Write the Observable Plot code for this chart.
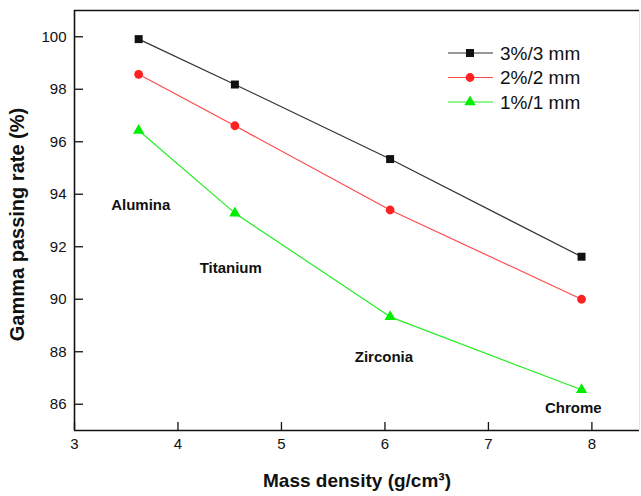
<!DOCTYPE html>
<html>
<head>
<meta charset="utf-8">
<script src="https://cdn.jsdelivr.net/npm/d3@7"></script>
<script src="https://cdn.jsdelivr.net/npm/@observablehq/plot@0.6"></script>
<style>
  html, body { margin: 0; padding: 0; background: #fff; }
  #chart svg { font-family: "Liberation Sans", Arial, sans-serif; }
</style>
</head>
<body>
<div id="chart"></div>
<script>
// ---- data ----
const materials = ["Alumina", "Titanium", "Zirconia", "Chrome"];
const density = [3.62, 4.55, 6.05, 7.90];
const seriesNames = ["3%/3 mm", "2%/2 mm", "1%/1 mm"];
const seriesColors = ["#111111", "#ff2020", "#00ee00"];
const lineColors = ["#333333", "#ff4a4a", "#22ee22"];
const seriesSymbols = ["square", "circle", "triangle"];
const seriesR = [4.5, 4.4, 4.2];
const pass3 = [99.91, 98.18, 95.34, 91.62];
const pass2 = [98.57, 96.61, 93.40, 90.00];
const pass1 = [96.43, 93.28, 89.33, 86.55];
const labelX = [3.64, 4.51, 5.99, 7.82];
const labelY = [93.59, 91.19, 87.80, 85.86];
const xTicks = [3, 4, 5, 6, 7, 8];
const yTicks = [86, 88, 90, 92, 94, 96, 98, 100];
const xTitle = "Mass density (g/cm³)";
const yTitle = "Gamma passing rate (%)";

const values = [pass3, pass2, pass1];
const rows = [];
values.forEach((vals, s) => vals.forEach((v, i) => rows.push({series: seriesNames[s], s, x: density[i], y: v})));
const labels = materials.map((m, i) => ({name: m, x: labelX[i], y: labelY[i]}));

const xDomain = [3, 8.46];
const yDomain = [85, 101];

const marks = [];
values.forEach((vals, s) => {
  const d = rows.filter(r => r.s === s);
  marks.push(Plot.line(d, {x: "x", y: "y", stroke: lineColors[s], strokeWidth: 1.2}));
});
values.forEach((vals, s) => {
  const d = rows.filter(r => r.s === s);
  marks.push(Plot.dot(d, {x: "x", y: "y", symbol: seriesSymbols[s], r: seriesR[s], fill: seriesColors[s], stroke: "none"}));
});

const chart = Plot.plot({
  width: 641,
  height: 496,
  marginLeft: 74,
  marginRight: 2,
  marginTop: 10,
  marginBottom: 66,
  style: {fontSize: "15px", fontFamily: "Liberation Sans, Arial, sans-serif", color: "#111", background: "#fff", overflow: "visible"},
  x: {domain: xDomain},
  y: {domain: yDomain},
  marks: [
    // inward tick marks
    Plot.axisX(xTicks, {tickSize: 8, dy: -8, tickFormat: () => "", label: null, strokeWidth: 1.3}),
    Plot.axisY(yTicks, {tickSize: 9, dx: 9, tickFormat: () => "", label: null, strokeWidth: 1.3}),
    // tick labels
    Plot.axisX(xTicks, {tickSize: 0, tickPadding: 8, label: null}),
    Plot.axisY(yTicks, {tickSize: 0, tickPadding: 8, label: null}),
    // axis titles
    Plot.text([xTitle], {frameAnchor: "bottom", dy: 50, textAnchor: "middle", lineAnchor: "middle", text: d => d, fontWeight: "bold", fontSize: 19, fill: "#111"}),
    Plot.text([yTitle], {frameAnchor: "left", dx: -57, dy: 4, rotate: -90, textAnchor: "middle", lineAnchor: "middle", text: d => d, fontWeight: "bold", fontSize: 20, fill: "#111"}),
    // frame
    Plot.ruleX([xDomain[1]], {stroke: "#e4e4e4", strokeWidth: 1}),
    Plot.ruleY([yDomain[0]], {stroke: "#111", strokeWidth: 1.6}),
    Plot.ruleY([yDomain[1]], {stroke: "#111", strokeWidth: 1.6}),
    Plot.ruleX([xDomain[0]], {stroke: "#111", strokeWidth: 1.6}),
    ...marks,
    Plot.text(labels, {x: "x", y: "y", text: "name", fontWeight: "bold", fontSize: 15, fill: "#111"})
  ]
});

// legend inside the plot (top-right)
const svg = d3.select(chart);
const lg = svg.append("g").attr("transform", "translate(448,53)");
seriesNames.forEach((name, i) => {
  const g = lg.append("g").attr("transform", `translate(0,${i * 24.5})`);
  g.append("line").attr("x1", 0).attr("x2", 45).attr("y1", 0).attr("y2", 0)
    .attr("stroke", lineColors[i]).attr("stroke-width", 1.2);
  const sym = seriesSymbols[i] === "square" ? d3.symbolSquare : seriesSymbols[i] === "circle" ? d3.symbolCircle : d3.symbolTriangle;
  g.append("path").attr("transform", "translate(22,0)")
    .attr("d", d3.symbol(sym, Math.PI * seriesR[i] * seriesR[i])())
    .attr("fill", seriesColors[i]);
  g.append("text").attr("x", 52).attr("y", 0).attr("dy", "0.35em")
    .attr("text-anchor", "start")
    .attr("font-size", 19).attr("fill", "#111").text(name);
});

document.getElementById("chart").appendChild(chart);
</script>
</body>
</html>
